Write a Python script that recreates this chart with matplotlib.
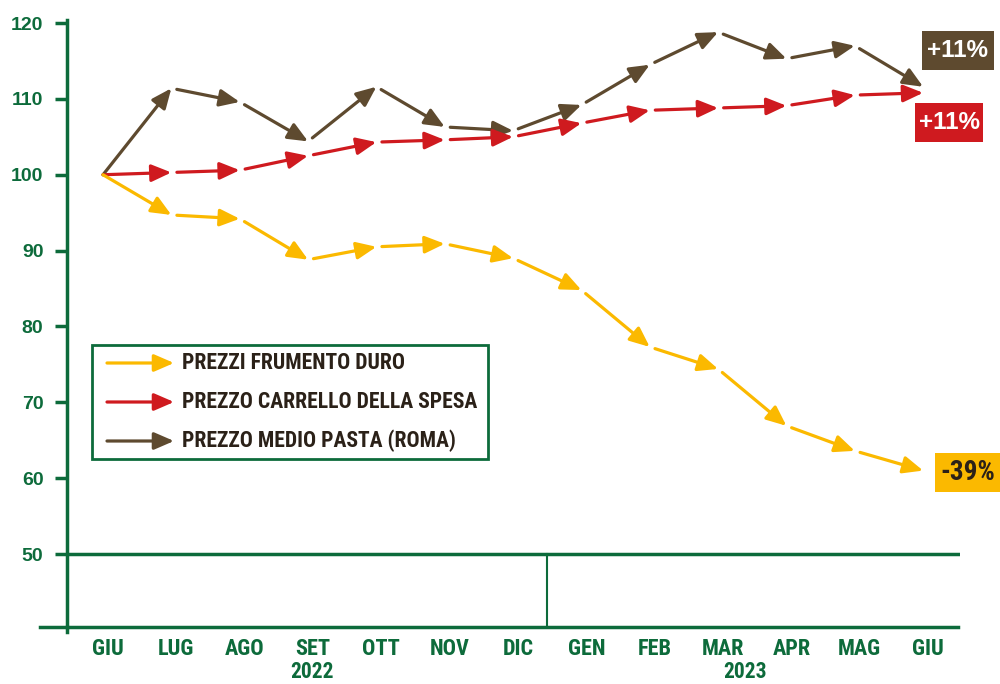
import matplotlib
matplotlib.use("Agg")
import matplotlib.pyplot as plt
from matplotlib import font_manager
from matplotlib.font_manager import FontProperties
from matplotlib.patches import Rectangle, FancyArrowPatch
from matplotlib.transforms import ScaledTranslation

# data (index, 100 = giugno 2022)
months = ["GIU", "LUG", "AGO", "SET", "OTT", "NOV", "DIC",
          "GEN", "FEB", "MAR", "APR", "MAG", "GIU"]
years = ["2022", "2023"]
frumento = [100, 94.7, 94.2, 88.8, 90.5, 90.9, 89.0, 84.8, 77.3, 74.4, 66.9, 63.6, 61.0]
carrello = [100, 100.3, 100.6, 102.5, 104.3, 104.6, 105.0, 106.8, 108.5, 108.8, 109.1, 110.5, 110.8]
pasta = [100, 111.4, 109.6, 104.4, 111.6, 106.3, 105.8, 109.2, 114.5, 118.8, 115.3, 117.0, 111.6]
series_names = ["PREZZI FRUMENTO DURO", "PREZZO CARRELLO DELLA SPESA", "PREZZO MEDIO PASTA (ROMA)"]
end_labels = ["-39%", "+11%", "+11%"]

GREEN = "#0d6b3b"
YELLOW = "#fbb900"
RED = "#cf1a1f"
BROWN = "#5e4a2f"
DARK = "#2b2118"

W, H = 1000, 684
plt.rcParams["font.family"] = ["Liberation Sans", "DejaVu Sans"]


def condensed_bold():
    # look for a narrow/condensed bold face among the installed fonts
    prefs = ["liberation sans narrow", "roboto condensed", "noto sans", "open sans",
             "dejavu sans condensed", "dejavu sans"]
    found = []
    for f in font_manager.fontManager.ttflist:
        name = f.name.lower()
        fn = f.fname.lower()
        narrow = ("narrow" in name or "condensed" in name or "narrow" in fn
                  or "condensed" in fn or f.stretch in ("condensed", "semi-condensed"))
        if "extra" in fn or "ultra" in fn or "italic" in fn or "oblique" in fn:
            continue
        bold = f.weight in (700, "bold") or "bold" in fn
        if narrow and bold and "semibold" not in fn and "extrabold" not in fn:
            rank = next((i for i, p in enumerate(prefs) if name.startswith(p)), len(prefs))
            if "semicondensed" in fn:
                rank += 0.5
            found.append((rank, f.fname))
    if found:
        found.sort()
        return FontProperties(fname=found[0][1])
    return FontProperties(family="Liberation Sans", weight="bold", stretch="condensed")


COND = condensed_bold()


def cond(size):
    fp = COND.copy()
    fp.set_size(size)
    return fp


fig = plt.figure(figsize=(W / 100, H / 100), dpi=100)
ax = fig.add_axes([67 / W, 1 - 627 / H, 893 / W, 607 / H])

x = list(range(len(months)))
ax.set_xlim(-0.527, 12.54)
ax.set_ylim(40.38, 120.4)

arrow_style = "-|>,head_length=0.6,head_width=0.26"


def draw_arrows(vals, color):
    for i in range(len(vals) - 1):
        ax.annotate("", xy=(x[i + 1], vals[i + 1]), xytext=(x[i], vals[i]),
                    arrowprops=dict(arrowstyle=arrow_style, color=color, lw=2.3,
                                    shrinkA=0 if i == 0 else 4, shrinkB=0,
                                    mutation_scale=20),
                    zorder=3)


draw_arrows(pasta, BROWN)
draw_arrows(carrello, RED)
draw_arrows(frumento, YELLOW)

# axes styling
for s in ["top", "right", "bottom"]:
    ax.spines[s].set_visible(False)
ax.spines["left"].set_color(GREEN)
ax.spines["left"].set_linewidth(2.5)
ax.set_yticks(range(50, 121, 10))
ax.tick_params(axis="y", colors=GREEN, length=9, width=2.5, pad=8, labelsize=14)
for lab in ax.get_yticklabels():
    lab.set_fontweight("bold")
ax.set_xticks(x)
ax.set_xticklabels(months, color=GREEN, fontproperties=cond(16))
ax.tick_params(axis="x", length=0, pad=8)
shift = ScaledTranslation(5 / 100, 0, fig.dpi_scale_trans)
for lab in ax.get_xticklabels():
    lab.set_transform(lab.get_transform() + shift)

ax.axhline(50, xmin=0, xmax=0.998, color=GREEN, lw=2.5, zorder=1)
ax.plot([-0.03, 0.998], [0, 0], transform=ax.transAxes, color=GREEN, lw=2.5, clip_on=False)
ax.plot([0, 0], [-0.008, 0], transform=ax.transAxes, color=GREEN, lw=2.5, clip_on=False)
ax.plot([6.5, 6.5], [40.38, 50], color=GREEN, lw=1.5)

trans = ax.get_xaxis_transform()
ax.text(3.06, -0.074, years[0], transform=trans, ha="center", va="center",
        color=GREEN, fontproperties=cond(15.5))
ax.text(9.4, -0.074, years[1], transform=trans, ha="center", va="center",
        color=GREEN, fontproperties=cond(15.5))


def fx(px):
    return px / W


def fy(py):
    return 1 - py / H


def label_box(x0, y0, x1, y1, text, face, tcolor, fp):
    fig.add_artist(Rectangle((fx(x0), fy(y1)), fx(x1 - x0), (y1 - y0) / H,
                             transform=fig.transFigure, facecolor=face, edgecolor="none"))
    fig.text(fx((x0 + x1) / 2), fy((y0 + y1) / 2), text, ha="center", va="center",
             color=tcolor, fontproperties=fp)


label_box(922, 31, 994, 70, end_labels[2], BROWN, "white",
          FontProperties(family="Liberation Sans", weight="bold", size=17.5))
label_box(915, 103, 983, 142, end_labels[1], RED, "white",
          FontProperties(family="Liberation Sans", weight="bold", size=17.5))
label_box(935, 453, 1000, 492, end_labels[0], YELLOW, DARK, cond(19.5))

# legend drawn by hand to keep the arrow keys
fig.add_artist(Rectangle((fx(92), fy(459)), fx(396), 114 / H, transform=fig.transFigure,
                         facecolor="white", edgecolor=GREEN, lw=2))
for ypx, name, col in zip([363, 402, 441], series_names, [YELLOW, RED, BROWN]):
    fig.add_artist(FancyArrowPatch(
        (fx(107), fy(ypx)), (fx(174), fy(ypx)), transform=fig.transFigure,
        arrowstyle=arrow_style, mutation_scale=20, color=col, lw=2.3,
        shrinkA=0, shrinkB=0))
    fig.text(fx(182), fy(ypx), name, ha="left", va="center", color=DARK,
             fontproperties=cond(15.6))

fig.savefig("out.png", dpi=100)
